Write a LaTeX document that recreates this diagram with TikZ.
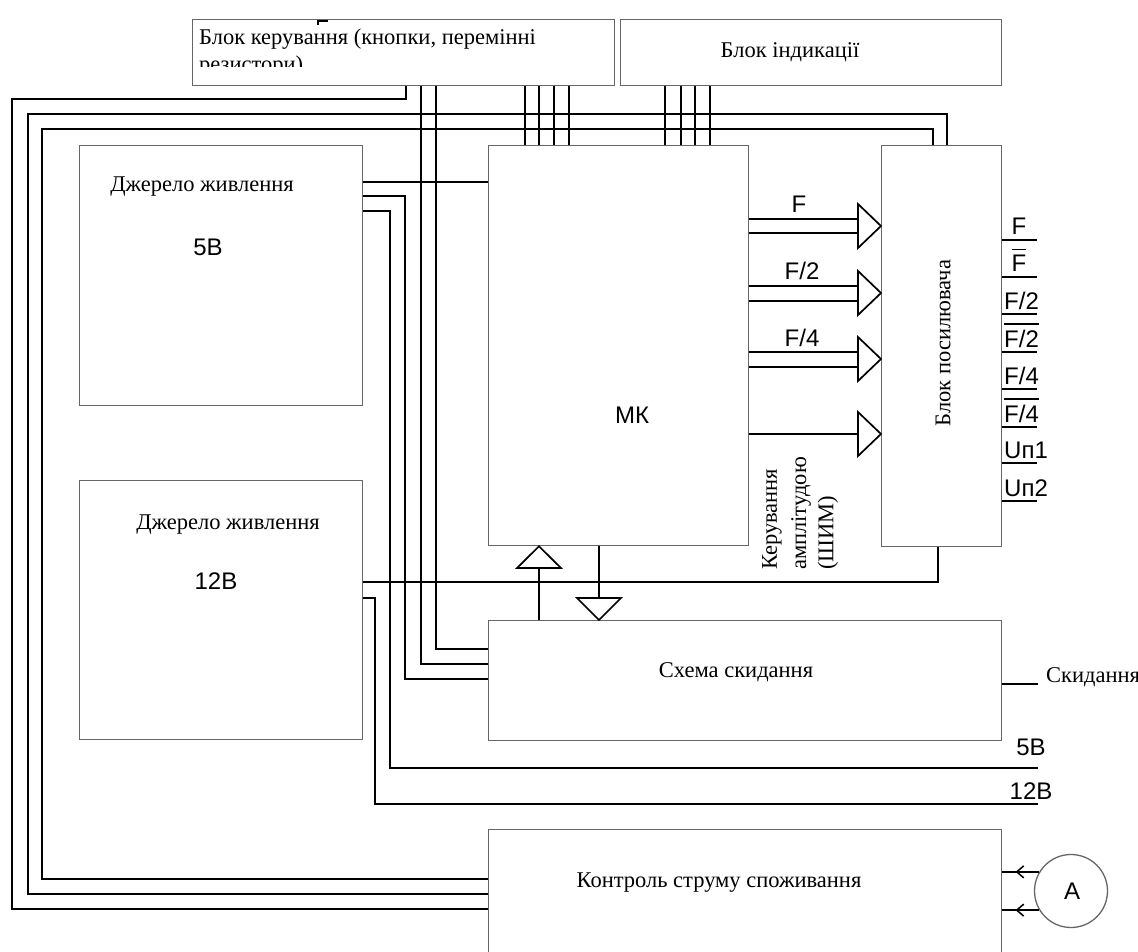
\documentclass[tikz,border=0pt]{standalone}
\usepackage{fontspec}
\setmainfont{Liberation Serif}
\newfontfamily\arialfam{Liberation Sans}
\usetikzlibrary{decorations.markings,arrows.meta}
\newcommand\mybar[1]{\leavevmode\vbox{\hrule height 1.5pt\kern 5pt\hbox{#1}}}
\begin{document}
\begin{tikzpicture}[x=1pt,y=-1pt,
  box/.style={draw=black!60, line width=1.3pt, inner sep=0pt, anchor=north west},
  wire/.style={line width=1.7pt, black},
  tri/.style={line width=1.7pt, draw=black, fill=white},
  serif/.style={font=\fontsize{22.5}{26}\selectfont, inner sep=0pt},
  sans/.style={font=\arialfam\fontsize{24}{28}\selectfont, inner sep=0pt},
  outlab/.style={font=\arialfam\fontsize{24}{28}\selectfont, inner sep=0pt, anchor=base west},
  barb/.style={postaction=decorate, decoration={markings,
     mark=at position 0.64 with {\arrow{Straight Barb[length=7pt,width=12pt,line width=1.5pt]}}}},
]
\useasboundingbox (0,0) rectangle (1138,952);
\fill[white] (0,0) rectangle (1138,952);

% ---------- boxes ----------
\node[box, minimum width=422pt, minimum height=66pt] (ctl) at (192,19) {};
\node[box, minimum width=381pt, minimum height=66pt] (ind) at (620,19) {};
\node[box, minimum width=283pt, minimum height=260pt] (src5) at (79,145) {};
\node[box, minimum width=283pt, minimum height=259pt] (src12) at (79,480) {};
\node[box, minimum width=260pt, minimum height=400pt] (mk) at (488,145) {};
\node[box, minimum width=120pt, minimum height=401pt] (amp) at (881,145) {};
\node[box, minimum width=513pt, minimum height=120pt] (rst) at (488,620) {};
\node[box, minimum width=513pt, minimum height=126pt] (cur) at (488,829) {};
\node[draw=black!60, line width=1.3pt, circle, minimum size=73pt, inner sep=0pt] (amm) at (1071,891) {};

% ---------- texts ----------
\node[serif, anchor=base west] (ctlt) at (199,45) {Блок керування (кнопки, перемінні};
\begin{scope}
  \clip (192,50) rectangle (614,66.5);
  \node[serif, anchor=base west] (ctlt2) at (199,72) {резистори)};
\end{scope}
\draw[line width=2pt] (318,25) -- (318,21.5) -- (328,21.5);
\node[serif] (indt) at (790,52) {Блок індикації};
\node[serif] (s5t) at (202,187) {Джерело живлення};
\node[sans] (s5v) at (208,247) {5В};
\node[serif] (s12t) at (228,525) {Джерело живлення};
\node[sans] (s12v) at (216,581) {12В};
\node[sans] (mkt) at (632,415) {МК};
\node[serif, rotate=90] (ampt) at (943,343) {Блок посилювача};
\node[serif, rotate=90, anchor=west] (k1) at (772,570) {Керування};
\node[serif, rotate=90, anchor=west] (k2) at (801,570) {амплітудою};
\node[serif, rotate=90, anchor=west] (k3) at (828,570) {(ШИМ)};
\node[serif] (rstt) at (736,672) {Схема скидання};
\node[serif] (curt) at (719,883) {Контроль струму споживання};
\node[serif, anchor=west] (rsto) at (1046,677) {Скидання};
\node[sans] (v5) at (1031,747) {5В};
\node[sans] (v12) at (1031,791) {12В};
\node[sans] (amt) at (1072,891) {A};

% ---------- control / indication buses ----------
\foreach \xx in {525,539,554,569} \draw[wire] (ctl.south -| \xx,0) -- (mk.north -| \xx,0);
\foreach \xx in {665,681,695,710} \draw[wire] (ind.south -| \xx,0) -- (mk.north -| \xx,0);

\draw[wire] (ctl.south -| 406,0) -- (406,99) -- (12,99) -- (12,909) -- (cur.west |- 0,909);
\draw[wire] (amp.north -| 947,0) -- (947,114) -- (28,114) -- (28,894) -- (cur.west |- 0,894);
\draw[wire] (amp.north -| 933,0) -- (933,129) -- (42,129) -- (42,879) -- (cur.west |- 0,879);
\draw[wire] (ctl.south -| 436,0) -- (436,649) -- (rst.west |- 0,649);
\draw[wire] (ctl.south -| 421,0) -- (421,664) -- (rst.west |- 0,664);

% ---------- power lines ----------
\coordinate (o5) at (1038,768);
\coordinate (o12) at (1038,804);
\coordinate (orst) at (1038,684);
\draw[wire] (src5.east |- 0,182) -- (mk.west |- 0,182);
\draw[wire] (src5.east |- 0,196) -- (405,196) -- (405,679) -- (rst.west |- 0,679);
\draw[wire] (src5.east |- 0,211) -- (390,211) -- (390,768) -- (o5);
\draw[wire] (src12.east |- 0,582) -- (938,582) -- (amp.south -| 938,0);
\draw[wire] (src12.east |- 0,598) -- (375,598) -- (375,804) -- (o12);
\draw[wire] (rst.east |- 0,684) -- (orst);

% ---------- MK -> amplifier ----------
\foreach \ya/\yb/\c in {219/233/226, 286/301/293, 352/367/359} {
  \draw[wire] (mk.east |- 0,\ya) -- (858,\ya);
  \draw[wire] (mk.east |- 0,\yb) -- (858,\yb);
  \draw[tri] (858,\c-22) -- (amp.west |- 0,\c) -- (858,\c+22) -- cycle;
}
\draw[wire] (mk.east |- 0,434) -- (858,434);
\draw[tri] (858,412) -- (amp.west |- 0,434) -- (858,456) -- cycle;
\node[sans] (lf) at (799,204) {F};
\node[sans] (lf2) at (802,271) {F/2};
\node[sans] (lf4) at (802,338) {F/4};

% ---------- MK <-> reset ----------
\draw[wire] (rst.north -| 539,0) -- (539,568);
\draw[tri] (517,568) -- (mk.south -| 539,0) -- (561,568) -- cycle;
\draw[wire] (mk.south -| 599,0) -- (599,598);
\draw[tri] (577,598) -- (rst.north -| 599,0) -- (621,598) -- cycle;

% ---------- amplifier outputs ----------
\foreach \yy in {240,277,314,352,389,427,463,501}
  \draw[wire] (amp.east |- 0,\yy) -- (1037,\yy);
\node[outlab, anchor=base] (q1) at (1019,235) {F};
\node[outlab, anchor=base] (q2) at (1019,272) {\mybar{F}};
\node[outlab] (q3) at (1004,309) {F/2};
\node[outlab] (q4) at (1004,347) {\mybar{F/2}};
\node[outlab] (q5) at (1004,384) {F/4};
\node[outlab] (q6) at (1004,422) {\mybar{F/4}};
\node[outlab] (q7) at (1004,458) {Uп1};
\node[outlab] (q8) at (1004,496) {Uп2};

% ---------- ammeter ----------
\draw[wire, barb] (amm.149) -- (amm.149 -| cur.east);
\draw[wire, barb] (amm.211) -- (amm.211 -| cur.east);
\end{tikzpicture}
\end{document}
